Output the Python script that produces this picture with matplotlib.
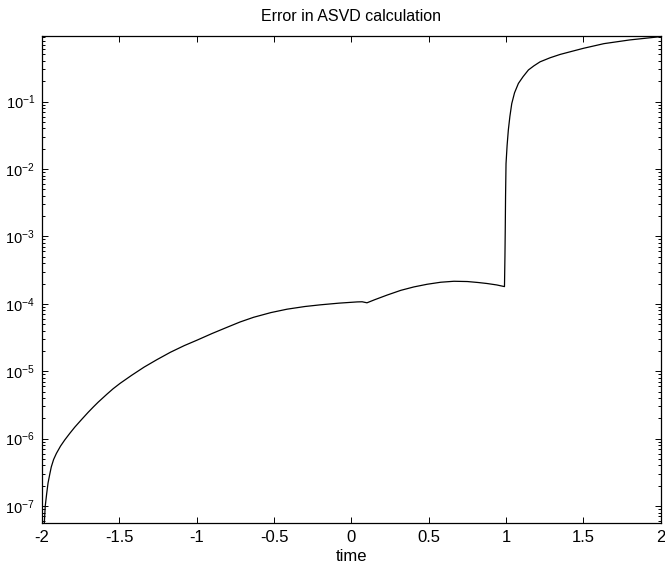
import numpy as np
import matplotlib
matplotlib.use('Agg')
import matplotlib.pyplot as plt
from matplotlib.ticker import LogLocator, FixedLocator

# Значения
time = [-1.985, -1.979, -1.970, -1.961, -1.950, -1.940, -1.925, -1.907,
        -1.880, -1.853, -1.820, -1.788, -1.745, -1.702, -1.668, -1.637,
        -1.580, -1.540, -1.495, -1.420, -1.340, -1.258, -1.170, -1.080,
        -0.999, -0.900, -0.805, -0.720, -0.632, -0.520, -0.416, -0.300,
        -0.200, -0.080, 0.038, 0.070, 0.101, 0.150, 0.232, 0.320,
        0.404, 0.490, 0.578, 0.663, 0.750, 0.820, 0.878, 0.940,
        0.990, 0.993, 0.995, 0.997, 1.000, 1.007, 1.015, 1.025,
        1.037, 1.055, 1.080, 1.110, 1.145, 1.180, 1.220, 1.285,
        1.350, 1.417, 1.500, 1.633, 1.800, 1.996]
err = [5.6e-8, 1.0e-7, 1.51e-7, 2.19e-7, 2.95e-7, 3.80e-7, 4.90e-7, 6.03e-7,
       7.76e-7, 9.55e-7, 1.20e-6, 1.48e-6, 1.91e-6, 2.45e-6, 2.95e-6, 3.47e-6,
       4.57e-6, 5.50e-6, 6.61e-6, 8.71e-6, 1.15e-5, 1.48e-5, 1.91e-5, 2.40e-5,
       2.88e-5, 3.63e-5, 4.47e-5, 5.37e-5, 6.31e-5, 7.41e-5, 8.32e-5, 9.12e-5,
       9.66e-5, 1.023e-4, 1.067e-4, 1.072e-4, 1.035e-4, 1.148e-4, 1.35e-4, 1.585e-4,
       1.78e-4, 1.95e-4, 2.09e-4, 2.16e-4, 2.14e-4, 2.07e-4, 2.0e-4, 1.905e-4,
       1.80e-4, 5.0e-4, 1.26e-3, 3.98e-3, 1.20e-2, 2.24e-2, 3.80e-2, 6.03e-2,
       9.33e-2, 0.135, 0.186, 0.234, 0.295, 0.339, 0.389, 0.447,
       0.501, 0.550, 0.617, 0.724, 0.822, 0.918]
xticks = [-2, -1.5, -1, -0.5, 0, 0.5, 1, 1.5, 2]
xticklabels = ['-2', '-1.5', '-1', '-0.5', '0', '0.5', '1', '1.5', '2']
ydecades = [-7, -6, -5, -4, -3, -2, -1]

plt.rcParams['font.family'] = ['Liberation Sans', 'DejaVu Sans']
plt.rcParams['mathtext.fontset'] = 'custom'
plt.rcParams['mathtext.rm'] = 'Liberation Sans'
plt.rcParams['mathtext.default'] = 'regular'
plt.rcParams['axes.unicode_minus'] = False

fig = plt.figure(figsize=(6.65, 5.69), dpi=100)
ax = fig.add_axes([42 / 665, 1 - 523 / 569, (660.7 - 42) / 665, (523 - 36) / 569])

ax.plot(time, err, color='black', linewidth=0.9)

ax.set_yscale('log')
ax.set_xlim(-2, 2)
ax.set_ylim(5.6e-8, 0.94)

ax.xaxis.set_major_locator(FixedLocator(xticks))
ax.set_xticklabels(xticklabels)
ax.yaxis.set_minor_locator(LogLocator(base=10, subs=np.arange(2, 10), numticks=20))
ax.set_yticks([10.0 ** k for k in ydecades])
ax.set_yticklabels([r'$10^{%d}$' % k for k in ydecades])

ax.tick_params(which='both', direction='in', top=True, right=True, width=0.7)
ax.tick_params(which='major', length=4)
ax.tick_params(axis='x', labelsize=12, pad=5)
ax.tick_params(axis='y', labelsize=10.5, pad=5)
ax.tick_params(which='minor', length=2.2)
for s in ax.spines.values():
    s.set_linewidth(0.9)

ax.set_title('Error in ASVD calculation', fontsize=11.5, pad=11)
ax.set_xlabel('time', fontsize=12, labelpad=3)

fig.savefig('out.png', dpi=100)
